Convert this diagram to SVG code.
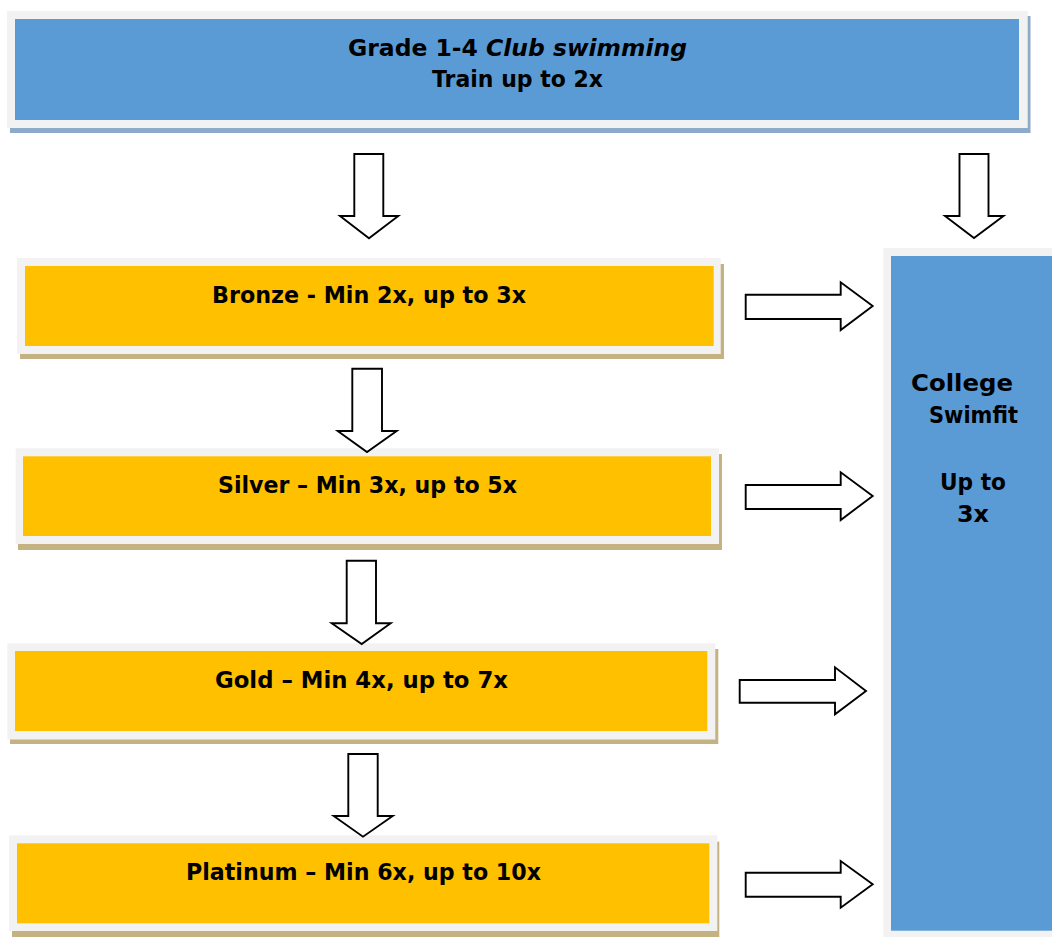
<svg xmlns="http://www.w3.org/2000/svg" width="1052" height="937" viewBox="0 0 1052 937">
<style>
.frame{fill:#f2f2f2}
.shb{fill:#8eaacb}
.shy{fill:#c4b283}
.blue{fill:#5b9bd5}
.yel{fill:#ffc000}
.t{font-family:"DejaVu Sans","Liberation Sans",Arial,sans-serif;font-weight:bold;font-size:23px;fill:#000}
.arr{fill:#fff;stroke:#000;stroke-width:1.9;stroke-linejoin:miter}
</style>
<rect width="1052" height="937" fill="#fff"/>
<g id="top">
<rect class="shb" x="10" y="16" width="1020.5" height="117"/>
<rect class="frame" x="7" y="11" width="1020.7" height="117"/>
<rect class="blue" x="15" y="19" width="1004" height="101"/>
<text class="t" x="348" y="56" textLength="339" lengthAdjust="spacingAndGlyphs">Grade 1-4 <tspan font-style="italic">Club swimming</tspan></text>
<text class="t" x="432" y="87" textLength="171" lengthAdjust="spacingAndGlyphs">Train up to 2x</text>
</g>
<g id="bronze">
<rect class="shy" x="20" y="264" width="704" height="95"/>
<rect class="frame" x="17" y="258" width="703.7" height="96"/>
<rect class="yel" x="25" y="266" width="688.7" height="80"/>
<text class="t" x="212" y="303" textLength="314" lengthAdjust="spacingAndGlyphs">Bronze - Min 2x, up to 3x</text>
</g>
<g id="silver">
<rect class="shy" x="18" y="454" width="704" height="96"/>
<rect class="frame" x="15.7" y="448.3" width="703.3" height="95.7"/>
<rect class="yel" x="23" y="456.3" width="688" height="79.7"/>
<text class="t" x="218" y="493" textLength="299" lengthAdjust="spacingAndGlyphs">Silver – Min 3x, up to 5x</text>
</g>
<g id="gold">
<rect class="shy" x="10" y="649" width="708.3" height="95"/>
<rect class="frame" x="7.3" y="643.3" width="708" height="96.2"/>
<rect class="yel" x="15" y="651" width="692.3" height="80"/>
<text class="t" x="215" y="688" textLength="293" lengthAdjust="spacingAndGlyphs">Gold – Min 4x, up to 7x</text>
</g>
<g id="platinum">
<rect class="shy" x="12" y="841.7" width="707.3" height="96"/>
<rect class="frame" x="9" y="835.3" width="708.3" height="95.7"/>
<rect class="yel" x="17" y="843.3" width="692.3" height="80"/>
<text class="t" x="186" y="880" textLength="355" lengthAdjust="spacingAndGlyphs">Platinum – Min 6x, up to 10x</text>
</g>
<g id="college">
<rect class="frame" x="883.3" y="248" width="180" height="700"/>
<rect class="blue" x="891" y="256" width="170" height="674.7"/>
<text class="t" x="911" y="391" textLength="102" lengthAdjust="spacingAndGlyphs">College</text>
<text class="t" x="929" y="423" textLength="89" lengthAdjust="spacingAndGlyphs">Swimfit</text>
<text class="t" x="940" y="490" textLength="66" lengthAdjust="spacingAndGlyphs">Up to</text>
<text class="t" x="957" y="522" textLength="32" lengthAdjust="spacingAndGlyphs">3x</text>
</g>
<g id="connectors">
<polygon class="arr" points="354.3,154 383.3,154 383.3,216 398.3,216 369,238.3 340,216 354.3,216"/>
<polygon class="arr" points="959.5,154 988.5,154 988.5,216 1003.5,216 974,238 945,216 959.5,216"/>
<polygon class="arr" points="352.3,368.7 382,368.7 382,431 396.7,431 367,452 337.7,431 352.3,431"/>
<polygon class="arr" points="346.7,560.7 376,560.7 376,623.3 390.7,623.3 361.7,644 331.7,623.3 346.7,623.3"/>
<polygon class="arr" points="348.3,754 377.7,754 377.7,816 392.7,816 363,836.7 333.7,816 348.3,816"/>
<polygon class="arr" points="745.7,294.7 840.7,294.7 840.7,282.3 872.7,306 840.7,330 840.7,319 745.7,319"/>
<polygon class="arr" points="745.7,485 840.7,485 840.7,472.3 872.7,496 840.7,520 840.7,509 745.7,509"/>
<polygon class="arr" points="739.7,680 835,680 835,667.3 866,691 835,714.3 835,702.7 739.7,702.7"/>
<polygon class="arr" points="745.7,872.7 840.7,872.7 840.7,861 872.7,884.3 840.7,907.7 840.7,896.7 745.7,896.7"/>
</g>
</svg>
